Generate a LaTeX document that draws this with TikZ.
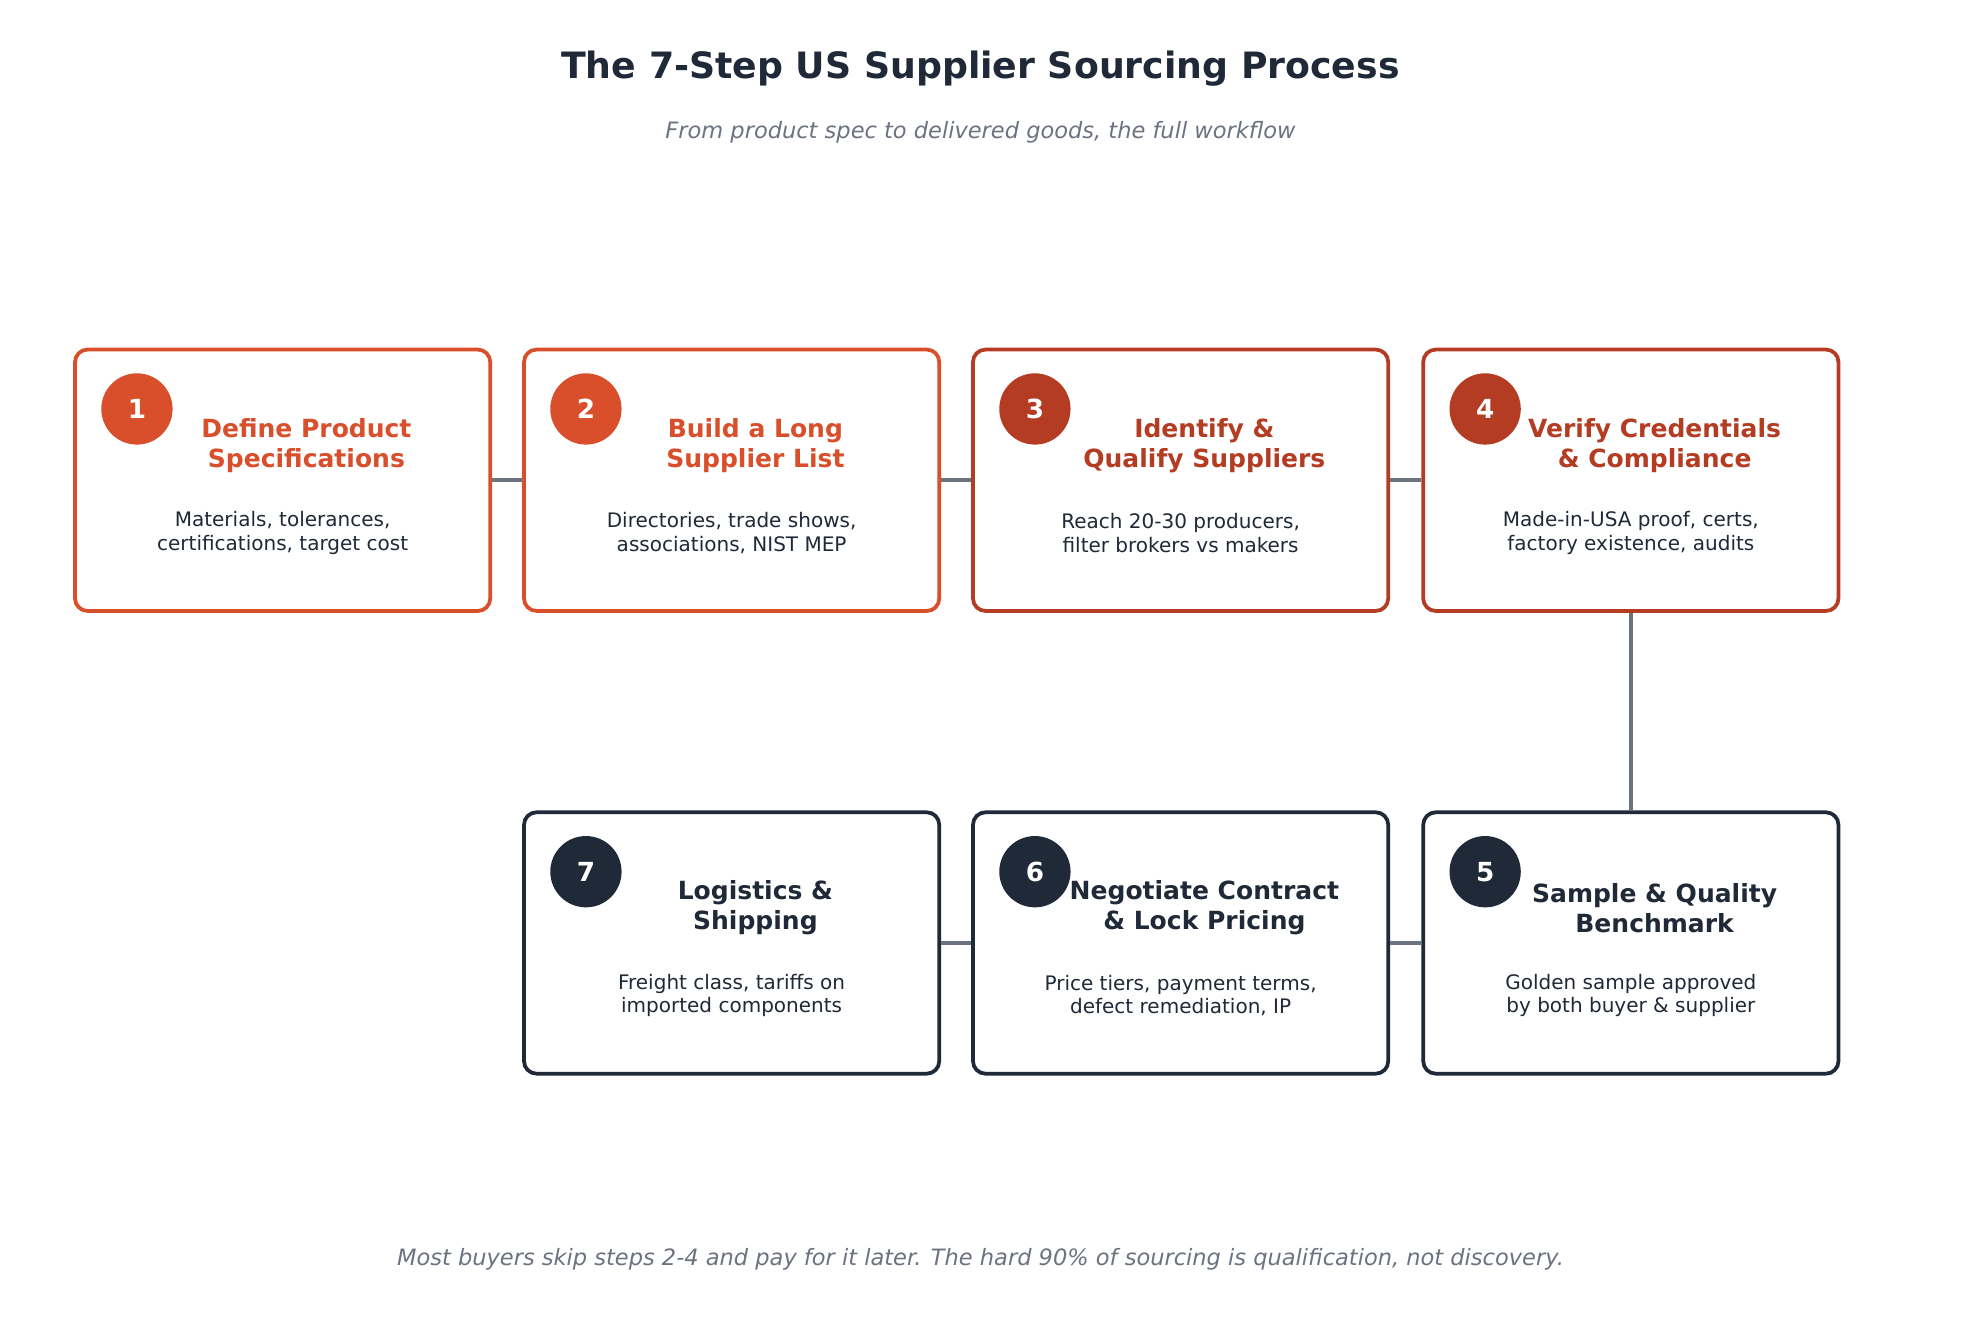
\documentclass[tikz,border=0pt]{standalone}
\usepackage{fontspec}
\setmainfont{DejaVu Sans}
\usetikzlibrary{calc,positioning}
\definecolor{orange1}{HTML}{D94F2B}
\definecolor{rust}{HTML}{B33C22}
\definecolor{navy}{HTML}{1F2937}
\definecolor{slate}{HTML}{6B7280}
\begin{document}
\begin{tikzpicture}[x=0.5pt, y=-0.5pt,
    step/.style={draw=#1, line width=1.5pt, rounded corners=5pt, fill=white,
                 minimum width=166pt, minimum height=104.5pt},
    badge/.style={circle, fill=#1, text=white, minimum size=28.5pt, inner sep=0pt,
                  font=\bfseries\fontsize{10.5}{12}\selectfont},
    head/.style={text=#1, align=center, font=\bfseries\fontsize{10}{12}\selectfont},
    desc/.style={text=navy, align=center, font=\fontsize{8}{9.5}\selectfont},
    link/.style={draw=slate, line width=1.5pt}]
    \useasboundingbox (0,0) rectangle (1568,1065);

    \node[text=navy, font=\bfseries\fontsize{14.5}{17}\selectfont] (title) at (784,55) {The 7-Step US Supplier Sourcing Process};
    \node[text=slate, font=\itshape\fontsize{9}{11}\selectfont] (sub) at (784,106) {From product spec to delivered goods, the full workflow};

    % boxes
    \node[step=orange1] (s1) at (226,384)  {};
    \node[step=orange1] (s2) at (585,384)  {};
    \node[step=rust]    (s3) at (944,384)  {};
    \node[step=rust]    (s4) at (1304,384) {};
    \node[step=navy]    (s5) at (1304,754) {};
    \node[step=navy]    (s6) at (944,754)  {};
    \node[step=navy]    (s7) at (585,754)  {};

    % connectors
    \path[link] (s1) -- (s2) (s2) -- (s3) (s3) -- (s4) (s4) -- (s5)
                (s5) -- (s6) (s6) -- (s7);

    % badges, titles, descriptions
    \foreach \n/\c/\t/\d in {
        1/orange1/{Define Product\\Specifications}/{Materials, tolerances,\\certifications, target cost},
        2/orange1/{Build a Long\\Supplier List}/{Directories, trade shows,\\associations, NIST MEP},
        3/rust/{Identify \&\\Qualify Suppliers}/{Reach 20-30 producers,\\filter brokers vs makers},
        4/rust/{Verify Credentials\\\& Compliance}/{Made-in-USA proof, certs,\\factory existence, audits},
        5/navy/{Sample \& Quality\\Benchmark}/{Golden sample approved\\by both buyer \& supplier},
        6/navy/{Negotiate Contract\\\& Lock Pricing}/{Price tiers, payment terms,\\defect remediation, IP},
        7/navy/{Logistics \&\\Shipping}/{Freight class, tariffs on\\imported components}} {
        \node[badge=\c] (b\n) at ($(s\n.north west)+(51,49)$) {\n};
        \node[head=\c] (h\n) at ($(s\n.center)+(19,-28)$) {\t};
        \node[desc] (d\n) at ($(s\n.center)+(0,42)$) {\d};
    }

    \node[text=slate, font=\itshape\fontsize{9}{11}\selectfont] (foot) at (784,1007)
        {Most buyers skip steps 2-4 and pay for it later. The hard 90\% of sourcing is qualification, not discovery.};
\end{tikzpicture}
\end{document}
